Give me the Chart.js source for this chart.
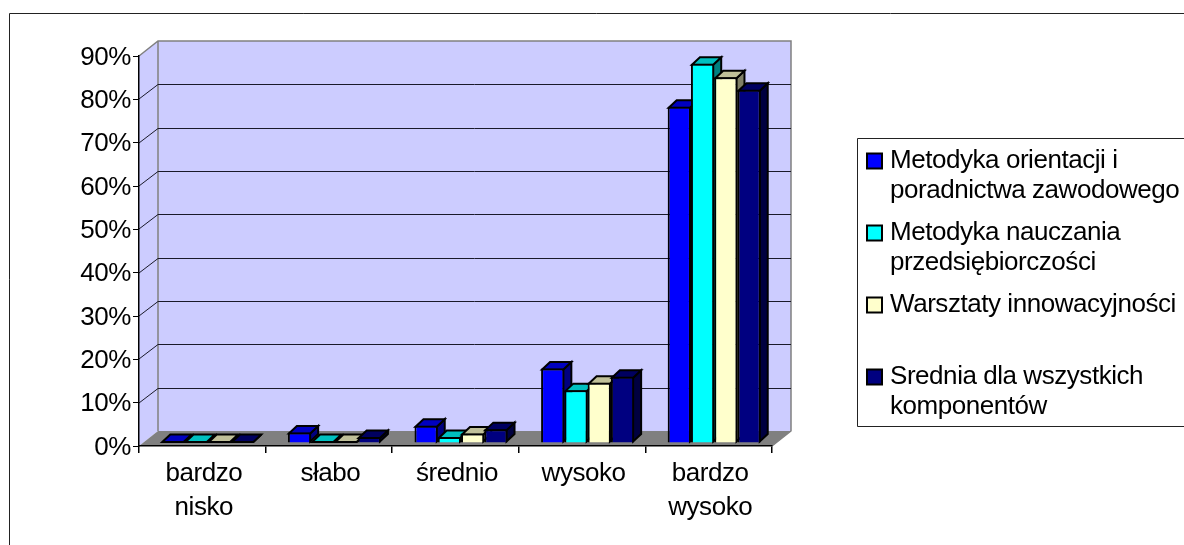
<!DOCTYPE html>
<html><head><meta charset="utf-8">
<style>html,body{margin:0;padding:0;background:#fff;overflow:hidden}canvas{display:block}</style>
<script src="https://cdn.jsdelivr.net/npm/chart.js@4/dist/chart.umd.min.js"></script>
</head><body><canvas id="c" width="1184" height="545"></canvas>
<script>
const categories = [["bardzo","nisko"],"słabo","średnio","wysoko",["bardzo","wysoko"]];
const metodykaOrientacji = [0, 2.4, 4.0, 17.2, 77.6];
const metodykaNauczania = [0, 0, 1.4, 12.2, 87.5];
const warsztaty = [0, 0, 2.2, 13.9, 84.4];
const srednia = [0, 1.4, 3.2, 15.3, 81.5];
const seriesLabels = [
  ["Metodyka orientacji i","poradnictwa zawodowego"],
  ["Metodyka nauczania","przedsiębiorczości"],
  ["Warsztaty innowacyjności",""],
  ["Srednia dla wszystkich","komponentów"]
];
const frontColors = ["#0000FF","#00FFFF","#FFFFCC","#000080"];
const topColors = ["#0000C0","#00C0C0","#C0C099","#000060"];
const sideColors = ["#000080","#008080","#808066","#000040"];
const FONT = "'Liberation Sans', Arial, sans-serif";
const WALL_DX = 19, WALL_DY = -15, BAR_DX = 5.5, BAR_DY = -3, DEPTH_X = 8, DEPTH_Y = -7.5;
const TRACKING = "-0.45px";

function poly(ctx, pts, fill) {
  ctx.beginPath();
  pts.forEach((p,i)=> i ? ctx.lineTo(p[0],p[1]) : ctx.moveTo(p[0],p[1]));
  ctx.closePath();
  ctx.fillStyle = fill; ctx.fill();
  ctx.strokeStyle = "#000"; ctx.lineWidth = 2; ctx.lineJoin = "miter"; ctx.stroke();
}
const scene = {
  id: "scene",
  beforeLayout(chart) { chart.ctx.letterSpacing = TRACKING; },
  afterLayout(chart) {
    const l = chart.legend;
    l.left = 860; l.top = 136; l.right = 1184; l.bottom = 545;
  },
  beforeDraw(chart) {
    const ctx = chart.ctx, a = chart.chartArea, y = chart.scales.y;
    ctx.letterSpacing = TRACKING;
    ctx.save();
    ctx.fillStyle = "#fff"; ctx.fillRect(0,0,1184,545);
    ctx.strokeStyle = "#222"; ctx.lineWidth = 1;
    ctx.beginPath(); ctx.moveTo(9.5,545); ctx.lineTo(9.5,13.5); ctx.lineTo(1184,13.5); ctx.stroke();
    const L=a.left,R=a.right,T=a.top,B=a.bottom;
    ctx.fillStyle = "#CCCCFF";
    ctx.fillRect(L+WALL_DX,T+WALL_DY,R-L,B-T);
    ctx.beginPath(); ctx.moveTo(L,T); ctx.lineTo(L+WALL_DX,T+WALL_DY); ctx.lineTo(L+WALL_DX,B+WALL_DY); ctx.lineTo(L,B); ctx.closePath(); ctx.fill();
    ctx.fillStyle = "#808080";
    ctx.beginPath(); ctx.moveTo(L,B); ctx.lineTo(L+WALL_DX,B+WALL_DY); ctx.lineTo(R+WALL_DX,B+WALL_DY); ctx.lineTo(R,B); ctx.closePath(); ctx.fill();
    ctx.strokeStyle = "#808080"; ctx.lineWidth = 1.5;
    ctx.beginPath();
    ctx.moveTo(L,T); ctx.lineTo(L+WALL_DX,T+WALL_DY); ctx.lineTo(R+WALL_DX,T+WALL_DY); ctx.lineTo(R+WALL_DX,B+WALL_DY); ctx.lineTo(R,B);
    ctx.moveTo(L+WALL_DX,T+WALL_DY); ctx.lineTo(L+WALL_DX,B+WALL_DY);
    ctx.stroke();
    ctx.strokeStyle = "#1a1a2a"; ctx.lineWidth = 1;
    y.ticks.forEach(t => {
      if (t.value === 0 || t.value === y.max) return;
      const p = Math.round(y.getPixelForValue(t.value));
      ctx.beginPath(); ctx.moveTo(L,p); ctx.lineTo(L+WALL_DX,p+WALL_DY+0.5); ctx.lineTo(R+WALL_DX,p+WALL_DY+0.5); ctx.stroke();
    });
    ctx.restore();
  },
  beforeDatasetsDraw(chart) {
    const ctx = chart.ctx;
    ctx.save();
    ctx.translate(BAR_DX, BAR_DY);
    chart.data.datasets.forEach((ds, di) => {
      chart.getDatasetMeta(di).data.forEach(bar => {
        const p = bar.getProps(["x","y","base","width"], true);
        const l = p.x - p.width/2 + 1, r = p.x + p.width/2 - 1;
        const t = Math.min(p.y + 1, p.base - 1), b = p.base - 1;
        poly(ctx, [[r,t],[r+DEPTH_X,t+DEPTH_Y],[r+DEPTH_X,b+DEPTH_Y],[r,b]], sideColors[di]);
        poly(ctx, [[l,t],[l+DEPTH_X,t+DEPTH_Y],[r+DEPTH_X,t+DEPTH_Y],[r,t]], topColors[di]);
        bar.draw(ctx);
      });
    });
    ctx.restore();
    return false;
  },
  afterDraw(chart) {
    const ctx = chart.ctx;
    ctx.save();
    ctx.strokeStyle = "#222"; ctx.lineWidth = 1;
    ctx.beginPath(); ctx.moveTo(1184,138.5); ctx.lineTo(857.5,138.5); ctx.lineTo(857.5,426.5); ctx.lineTo(1184,426.5); ctx.stroke();
    ctx.restore();
  }
};
const ds = (i, data) => ({
  label: seriesLabels[i], data,
  backgroundColor: frontColors[i], borderColor: "#000", borderWidth: 2,
  barPercentage: 1, categoryPercentage: 0.735
});
new Chart(document.getElementById("c"), {
  type: "bar",
  data: { labels: categories, datasets: [
    ds(0, metodykaOrientacji), ds(1, metodykaNauczania), ds(2, warsztaty), ds(3, srednia)
  ]},
  plugins: [scene],
  options: {
    responsive: false, animation: false,
    layout: { padding: { left: 0, top: 56, right: 412, bottom: 0 } },
    plugins: {
      tooltip: { enabled: false },
      legend: {
        position: "chartArea", align: "start",
        labels: {
          usePointStyle: true, pointStyle: "rect",
          boxWidth: 5, boxHeight: 15, padding: 12, color: "#000",
          font: { family: FONT, size: 26, lineHeight: 30/26 }
        }
      }
    },
    scales: {
      x: {
        afterFit: s => { s.height = 99; },
        grid: { drawOnChartArea: false, color: "#000", tickLength: 7, lineWidth: 1.5 },
        border: { color: "#000", width: 1.5 },
        ticks: { color: "#000", autoSkip: false, maxRotation: 0, padding: 4, labelOffset: 1.5,
                 font: { family: FONT, size: 26, lineHeight: 34/26 } }
      },
      y: {
        min: 0, max: 90,
        afterFit: s => { s.width = 139; },
        grid: { drawOnChartArea: false, color: "#000", tickLength: 6, lineWidth: 1 },
        border: { color: "#000", width: 1.5 },
        ticks: { stepSize: 10, color: "#000", padding: 2, labelOffset: 1.5, callback: v => v + "%",
                 font: { family: FONT, size: 26 } }
      }
    }
  }
});
</script></body></html>
